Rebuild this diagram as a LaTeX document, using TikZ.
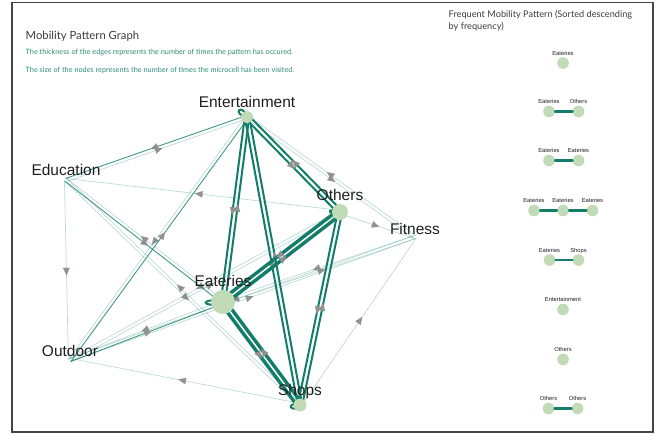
\documentclass[tikz,border=0pt]{standalone}
\usepackage{fontspec}
\setmainfont{Liberation Sans}
\newfontfamily\latofont{Lato}
\usetikzlibrary{calc,arrows.meta,decorations.markings,backgrounds}

\begin{document}
\begin{tikzpicture}
			[x=1pt,y=-1pt,line cap=round,
			%Styles
			place/.style={circle,fill=nodegreen,inner sep=0pt,minimum size=#1},
			point/.style={inner sep=0pt,minimum size=0pt},
			place label/.style={font=\fontsize{15.5}{16}\selectfont,text=labelblack,inner sep=1pt,text depth=0pt},
			small label/.style={font=\fontsize{5.8}{6}\selectfont,text=labelblack,inner sep=.5pt,text depth=0pt},
			light edge/.style={draw=edgeteal,draw opacity=.28,line width=.7pt},
			medium edge/.style={draw=edgeteal,draw opacity=.8,line width=.9pt},
			strong edge/.style={draw=edgeteal,line width=2pt},
			heavy edge/.style={draw=edgeteal,line width=3.4pt},
			mid arrow/.style={postaction={decorate},decoration={markings,
				mark=at position .53 with {\pgfsetstrokeopacity{1}\pgfsetfillopacity{1}%
				\arrow[arrowgrey]{Triangle[length=7.5pt,width=6.5pt,line width=.01pt]}}}},
			pattern link/.style={draw=edgeteal,line width=2.4pt},
			title text/.style={font=\latofont\fontsize{11.3}{12}\selectfont,text=titlegrey,inner sep=0pt},
			note text/.style={font=\latofont\fontsize{7.3}{8}\selectfont,text=notegreen,inner sep=0pt}
			]
			
			%Colors
			\definecolor{edgeteal}{RGB}{18,125,105}
			\definecolor{nodegreen}{RGB}{193,219,182}
			\definecolor{arrowgrey}{RGB}{145,145,145}
			\definecolor{labelblack}{RGB}{30,30,30}
			\definecolor{notegreen}{RGB}{45,140,120}
			\definecolor{titlegrey}{RGB}{60,60,60}
			\definecolor{framegrey}{RGB}{70,70,70}
			
			\useasboundingbox (0,0) rectangle (670,434);
			\draw[framegrey,line width=1.8pt] (12,2.5) rectangle (653,432);
			
			%Texts
			\node[title text,anchor=west] (title) at (25.5,36.5) {Mobility Pattern Graph};
			\node[note text,anchor=west] (note1) at (25.5,52.5) {The thickness of the edges represents the number of times the pattern has occured.};
			\node[note text,anchor=west] (note2) at (25.5,70.5) {The size of the nodes represents the number of times the microcell has been visited.};
			\node[title text,anchor=north west,align=left,font=\latofont\fontsize{9.2}{12}\selectfont] (ptitle) at (448.5,10) {Frequent Mobility Pattern (Sorted descending\\by frequency)};
			
			%The graph
			\node[place=12pt,label={[place label,label distance=2pt]above:Entertainment}] (ent) at (247,117) {};
			\node[place=16pt,label={[place label,label distance=2pt]above:Others}] (oth) at (340,212) {};
			\node[place=24pt,label={[place label,label distance=2pt]above:Eateries}] (eat) at (223,302) {};
			\node[place=13pt,label={[place label,label distance=2pt]above:Shops}] (sho) at (300,405) {};
			\node[point,label={[place label,label distance=3pt]above:Education}] (edu) at (66,180) {};
			\node[point,label={[place label,label distance=2.5pt]above:Outdoor}] (out) at (70,360) {};
			\node[point,label={[place label,label distance=1.5pt]above:Fitness}] (fit) at (415,237) {};
			
			\begin{scope}[on background layer]
			\foreach \src/\dst in {edu/out,edu/sho,sho/edu,sho/out,oth/out,out/oth,fit/out,out/fit,ent/fit,fit/ent,oth/fit,oth/edu,fit/eat,eat/fit,sho/fit,edu/ent,ent/out,eat/edu,eat/out}
				\draw[light edge,mid arrow] ($(\src)!1.6pt!-90:(\dst)$) -- ($(\dst)!1.6pt!90:(\src)$);
			\foreach \src/\dst in {ent/edu,edu/eat,out/eat,out/ent}
				\draw[medium edge,mid arrow] ($(\src)!1.6pt!-90:(\dst)$) -- ($(\dst)!1.6pt!90:(\src)$);
			\foreach \src/\dst in {ent/eat,eat/ent,ent/sho,sho/ent,ent/oth,oth/ent,oth/sho,sho/oth}
				\draw[strong edge,mid arrow] ($(\src)!2.2pt!-90:(\dst)$) -- ($(\dst)!2.2pt!90:(\src)$);
			\foreach \src/\dst in {eat/oth,oth/eat,eat/sho,sho/eat}
				\draw[heavy edge,mid arrow] ($(\src)!2.6pt!-90:(\dst)$) -- ($(\dst)!2.6pt!90:(\src)$);
			
			%self loops
			\draw[strong edge] (ent.center) .. controls +(-16,-3) and +(-5,-15) .. (ent.center);
			\draw[strong edge] (oth.center) .. controls +(-18,-6) and +(-8,6) .. (oth.center);
			\draw[strong edge] (eat.center) .. controls +(-24,-6) and +(-22,8) .. (eat.center);
			\draw[strong edge] (sho.center) .. controls +(-16,-4) and +(-8,10) .. (sho.center);
			\end{scope}
			
			%Frequent patterns
			\node[place=11.6pt,label={[small label,label distance=1pt]above:Eateries}] (p1a) at (563,63) {};
			
			\node[place=11.6pt,label={[small label,label distance=1pt]above:Eateries}] (p2a) at (549,111.5) {};
			\node[place=11.6pt,label={[small label,label distance=1pt]above:Others}] (p2b) at (578.5,111.5) {};
			\draw[pattern link] (p2a) -- (p2b);
			
			\node[place=11.6pt,label={[small label,label distance=1pt]above:Eateries}] (p3a) at (549,160.5) {};
			\node[place=11.6pt,label={[small label,label distance=1pt]above:Eateries}] (p3b) at (578.5,160.5) {};
			\draw[pattern link] (p3a) -- (p3b);
			
			\node[place=11.6pt,label={[small label,label distance=1pt]above:Eateries}] (p4a) at (534,210.5) {};
			\node[place=11.6pt,label={[small label,label distance=1pt]above:Eateries}] (p4b) at (563,210.5) {};
			\node[place=11.6pt,label={[small label,label distance=1pt]above:Eateries}] (p4c) at (592.5,210.5) {};
			\draw[pattern link] (p4a) -- (p4b);
			\draw[pattern link] (p4b) -- (p4c);
			
			\node[place=11.6pt,label={[small label,label distance=1pt]above:Eateries}] (p5a) at (549.5,260) {};
			\node[place=11.6pt,label={[small label,label distance=1pt]above:Shops}] (p5b) at (578.5,260) {};
			\draw[pattern link] (p5a) -- (p5b);
			
			\node[place=11.6pt,label={[small label,label distance=1pt]above:Entertainment}] (p6a) at (563,309.5) {};
			
			\node[place=11.6pt,label={[small label,label distance=1pt]above:Others}] (p7a) at (563,359.5) {};
			
			\node[place=11.6pt,label={[small label,label distance=1pt]above:Others}] (p8a) at (548.5,408.5) {};
			\node[place=11.6pt,label={[small label,label distance=1pt]above:Others}] (p8b) at (577.5,408.5) {};
			\draw[pattern link] (p8a) -- (p8b);
		\end{tikzpicture}
\end{document}
